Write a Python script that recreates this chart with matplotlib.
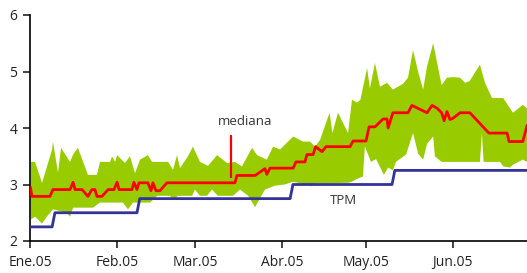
import numpy as np
import pandas as pd
import matplotlib
matplotlib.use("Agg")
import matplotlib.pyplot as plt
import matplotlib.dates as mdates

plt.rcParams['font.family'] = ['Open Sans', 'DejaVu Sans']

start = pd.Timestamp("2005-01-01")

# días desde 1-ene-2005 y valores (%)
upper_days = [0.25, 1.8, 4.3, 7.9, 8.2, 10, 11.1, 14.3, 15.4, 17.1, 20.7, 23.9, 25, 28.6, 29.3,
              30.4, 31.1, 33.9, 35.7, 37.5, 39.3, 42.1, 43.6, 49.3, 51.1, 52.5, 53.6, 56.4, 58.2,
              60.7, 63.6, 66.8, 70.4, 73.2, 75.7, 79.3, 81.1, 84.6, 86.8, 89.3, 94, 97.5, 100,
              101.8, 103.6, 107, 108, 110, 113.6, 115, 116.8, 118, 120.4, 121.4, 123.2, 125,
              127.5, 129.6, 133.2, 135, 136.8, 138.6, 140.4, 141.8, 144, 147, 148.9, 151, 153.6,
              155.4, 157, 160.7, 162.5, 165, 169, 172.5, 176, 177.5]
upper_vals = [3.40, 3.40, 3.03, 3.62, 3.76, 3.21, 3.65, 3.40, 3.53, 3.65, 3.17, 3.17, 3.40, 3.40, 3.50,
              3.40, 3.52, 3.38, 3.50, 3.20, 3.44, 3.52, 3.40, 3.40, 3.26, 3.52, 3.29, 3.50, 3.67,
              3.40, 3.33, 3.52, 3.38, 3.40, 3.32, 3.65, 3.52, 3.44, 3.67, 3.62, 3.85, 3.76, 3.76,
              3.67, 3.79, 4.27, 3.91, 4.27, 3.91, 4.50, 4.45, 4.50, 5.06, 4.70, 5.15, 4.73,
              4.80, 4.68, 4.78, 4.89, 5.38, 5.00, 4.68, 5.09, 5.50, 4.76, 4.89, 4.90, 4.89,
              4.80, 4.83, 5.12, 4.80, 4.53, 4.53, 4.27, 4.41, 4.35]

lower_days = [0.25, 1.8, 4.3, 6, 8.2, 13.2, 14.3, 15.4, 22.5, 25, 33.2, 35, 36.8, 42.9, 45.4,
              50, 51.1, 52.9, 57.9, 58.9, 60.7, 63.2, 65, 67.1, 72.5, 75, 77.9, 80.4, 83.9,
              87.5, 91, 94, 100.7, 101.8, 113.6, 115, 116.8, 118.9, 119.6, 121.8, 123.6, 126.4,
              127.9, 129.6, 130.7, 134.3, 136.8, 138.6, 140.4, 141.8, 144, 144.6, 147, 160.7,
              161.4, 162, 167.9, 169, 171.4, 172.5, 176, 177.5]
lower_vals = [2.38, 2.43, 2.31, 2.43, 2.56, 2.50, 2.43, 2.59, 2.59, 2.68, 2.68, 2.56, 2.68, 2.68, 2.80,
              2.80, 2.73, 2.80, 2.80, 2.91, 2.80, 2.80, 2.91, 2.80, 2.80, 2.91, 2.80, 2.60, 2.91,
              2.98, 3.00, 3.05, 2.97, 3.02, 3.03, 3.05, 3.10, 3.14, 3.67, 3.40, 3.45, 3.17,
              3.30, 3.25, 3.40, 3.53, 3.91, 3.55, 3.44, 3.72, 3.85, 3.50, 3.40, 3.40,
              3.91, 3.40, 3.40, 3.32, 3.30, 3.35, 3.44, 3.40]

median_days = [0.2, 0.7, 7.1, 8.2, 14.3, 15.4, 16.1, 18.6, 20.7, 22.1, 23.2, 23.9, 25.7, 27.9, 30,
               31.1, 31.8, 36.4, 37.1, 38.2, 38.9, 42.1, 43.2, 43.9, 45, 46.4, 48.9, 73.2, 73.9,
               80.4, 83.9, 84.6, 85.7, 94, 95, 98.2, 98.9, 101.1, 102, 104.3, 105.7, 114.3, 115.4,
               120, 121.1, 123.2, 126.1, 127.5, 127.9, 129.6, 135, 136.4, 141.8, 143.6, 145.4,
               147, 147.9, 148.9, 150, 151, 153.6, 157.1, 163.9, 170.4, 171.1, 176, 177.5]
median_vals = [2.94, 2.79, 2.79, 2.91, 2.91, 3.04, 2.91, 2.91, 2.79, 2.91, 2.91, 2.79, 2.79, 2.91, 2.91,
               3.04, 2.91, 2.91, 3.04, 2.91, 3.03, 3.03, 2.89, 3.03, 2.89, 2.89, 3.03, 3.03, 3.16,
               3.16, 3.28, 3.18, 3.29, 3.29, 3.40, 3.40, 3.53, 3.53, 3.67, 3.58, 3.67, 3.67, 3.77,
               3.77, 4.02, 4.02, 4.16, 4.16, 4.00, 4.27, 4.27, 4.40, 4.27, 4.40, 4.35,
               4.27, 4.13, 4.29, 4.15, 4.17, 4.27, 4.27, 3.91, 3.91, 3.76, 3.76, 4.04]

tpm_days = [0, 7.9, 8.9, 38.2, 39.2, 92.9, 93.9, 129.3, 130.3, 177.5]
tpm_vals = [2.25, 2.25, 2.5, 2.5, 2.75, 2.75, 3.0, 3.0, 3.25, 3.25]

month_labels = ["Ene.05", "Feb.05", "Mar.05", "Abr.05", "May.05", "Jun.05"]


def to_num(days):
    return mdates.date2num(start + pd.to_timedelta(np.array(days), unit="D"))


fig = plt.figure(figsize=(5.27, 2.73), dpi=100)
ax = fig.add_axes([30 / 527, 32 / 273, 497 / 527, 226 / 273])

bx = np.concatenate([to_num(upper_days), to_num(lower_days)[::-1]])
by = np.concatenate([upper_vals, lower_vals[::-1]])
ax.fill(bx, by, color="#99CC00", lw=0, zorder=1)

ax.plot(to_num(tpm_days), tpm_vals, color="#333399", lw=2.0, zorder=3)
ax.plot(to_num(median_days), median_vals, color="#FF0000", lw=2.0, zorder=4)

# anotaciones
ax.vlines(to_num([71.8])[0], 3.12, 3.88, color="#FF0000", lw=1.6, zorder=5)
ax.text(to_num([76.8])[0], 4.11, "mediana", ha="center", va="center", fontsize=9.5, color="#333333")
ax.text(to_num([112])[0], 2.71, "TPM", ha="center", va="center", fontsize=9.5, color="#333333")

months = pd.date_range("2005-01-01", periods=6, freq="MS")
ax.set_xticks(mdates.date2num(months))
ax.set_xticklabels(month_labels)
ax.set_xlim(to_num([0])[0], to_num([177.5])[0])
ax.set_ylim(2, 6)
ax.set_yticks([2, 3, 4, 5, 6])

for s in ["top", "right"]:
    ax.spines[s].set_visible(False)
for s in ["left", "bottom"]:
    ax.spines[s].set_linewidth(1.2)
ax.tick_params(axis="both", labelsize=10, colors="#222222", length=5, width=1.2)
ax.tick_params(axis="x", pad=5)
ax.tick_params(axis="y", pad=4)

fig.savefig("out.png", dpi=100)
